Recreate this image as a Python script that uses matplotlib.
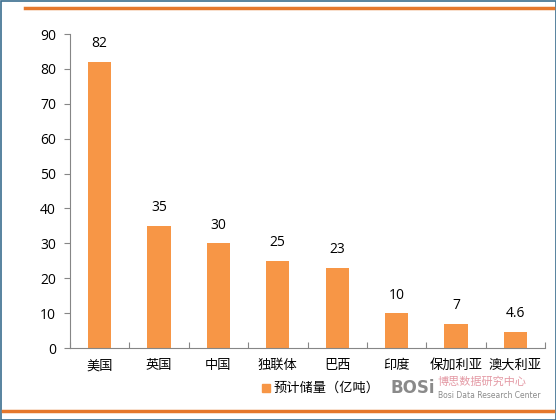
import matplotlib
matplotlib.use("Agg")
import matplotlib.pyplot as plt
from matplotlib.patches import Rectangle
from matplotlib.lines import Line2D

plt.rcParams['font.family'] = ['Noto Sans CJK SC', 'DejaVu Sans']

categories = ['美国', '英国', '中国', '独联体', '巴西', '印度', '保加利亚', '澳大利亚']
values = [82, 35, 30, 25, 23, 10, 7, 4.6]
labels = ['82', '35', '30', '25', '23', '10', '7', '4.6']
series_name = '预计储量（亿吨）'

orange = '#F79646'
W, H = 556, 420
fig = plt.figure(figsize=(W/100, H/100), dpi=100)

ax = fig.add_axes([70/W, 1-348/H, 475/W, (348-34)/H])
x = list(range(len(categories)))
bars = ax.bar(x, values, width=0.39, color=orange, label=series_name)
for xi, v, lab in zip(x, values, labels):
    ax.text(xi, v + 3.0, lab, ha='center', va='bottom', fontsize=10, color='black',
            family=['Open Sans', 'DejaVu Sans'])
ax.set_xlim(-0.5, len(categories)-0.5)
ax.set_ylim(0, 90)
ax.set_yticks(range(0, 91, 10))
ax.set_yticklabels([str(t) for t in range(0, 91, 10)], family=['Open Sans', 'DejaVu Sans'], fontsize=10)
ax.set_xticks([i - 0.5 for i in range(len(categories)+1)], minor=False)
ax.set_xticklabels([])
ax.set_xticks(x, minor=True)
ax.set_xticklabels(categories, minor=True, fontsize=9.5)
ax.tick_params(axis='x', which='minor', length=0, pad=8)
ax.tick_params(axis='x', which='major', length=4, color='#868686', direction='in')
ax.tick_params(axis='y', length=4, color='#868686', direction='out', pad=6)
for s in ['top', 'right']:
    ax.spines[s].set_visible(False)
ax.spines['left'].set_color('#868686')
ax.spines['bottom'].set_color('#868686')

# legend
fig.patches.append(Rectangle((262/W, 1-392/H), 8/W, 8/H, transform=fig.transFigure, color=orange))
fig.text(273/W, 1-388/H, series_name, fontsize=9.5, va='center', ha='left')
# watermark
fig.text(391/W, 1-388/H, 'BOSi', fontsize=12, fontweight='bold', color='#8A8A8A', va='center', ha='left',
         family=['DejaVu Sans'])
fig.text(438/W, 1-382/H, '博思数据研究中心', fontsize=8, color='#E49AA5', va='center', ha='left')
fig.text(438/W, 1-396/H, 'Bosi Data Research Center', fontsize=5.5, color='#8A8A8A', va='center', ha='left',
         family=['DejaVu Sans'])

# decorative orange lines
fig.add_artist(Line2D([25/W, 553/W], [1-8/H, 1-8/H], color='#E5782D', lw=2.5, transform=fig.transFigure))
fig.add_artist(Line2D([3/W, 553/W], [1-411/H, 1-411/H], color='#E5782D', lw=2.5, transform=fig.transFigure))
# border
fig.patches.append(Rectangle((0.5/W, 0.5/H), 1-1/W, 1-1/H, transform=fig.transFigure, fill=False,
                             edgecolor='#3B6E8F', lw=1.2))

fig.savefig('out.png', dpi=100)
